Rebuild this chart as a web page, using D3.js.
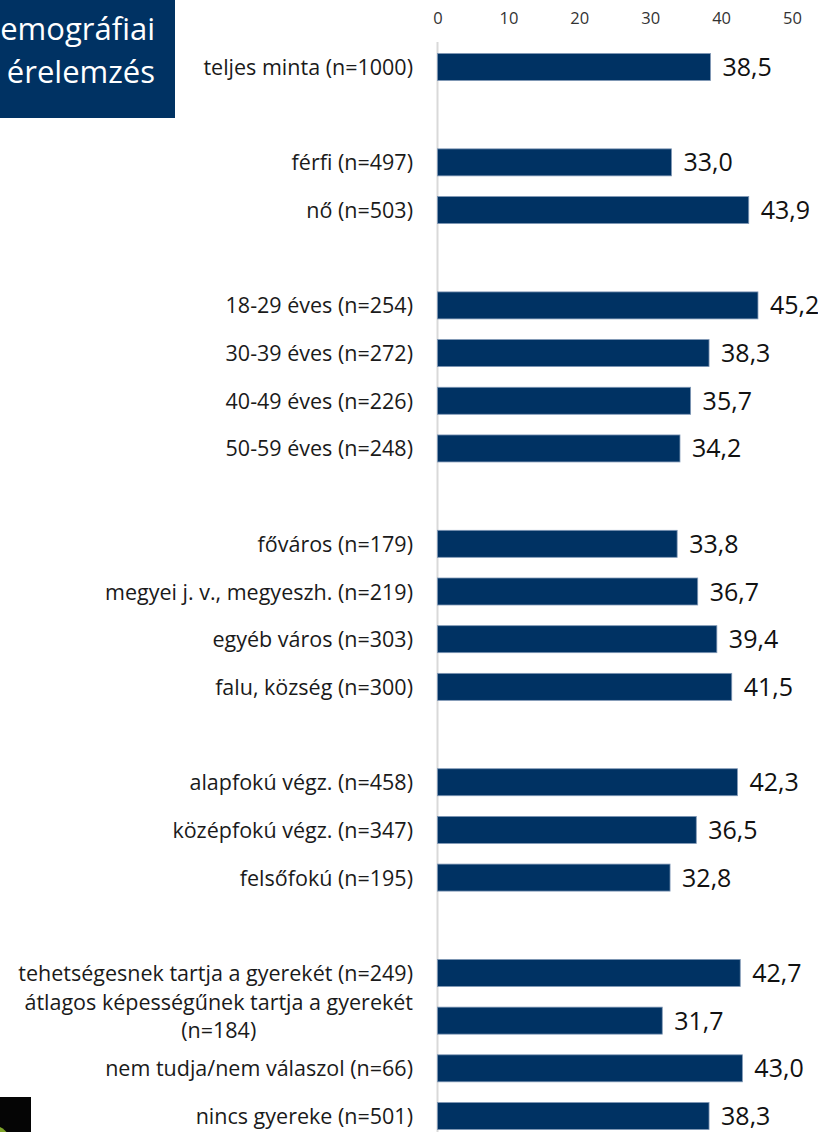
<!DOCTYPE html>
<html><head><meta charset="utf-8">
<script src="https://cdn.jsdelivr.net/npm/d3@7"></script>
<style>
html,body{margin:0;padding:0;background:#fff;}
svg{display:block;}
</style></head>
<body>
<script>
const categories = [
  "teljes minta (n=1000)",
  "férfi (n=497)", "nő (n=503)",
  "18-29 éves (n=254)", "30-39 éves (n=272)", "40-49 éves (n=226)", "50-59 éves (n=248)",
  "főváros (n=179)", "megyei j. v., megyeszh. (n=219)", "egyéb város (n=303)", "falu, község (n=300)",
  "alapfokú végz. (n=458)", "középfokú végz. (n=347)", "felsőfokú (n=195)",
  "tehetségesnek tartja a gyerekét (n=249)", "átlagos képességűnek tartja a gyerekét (n=184)",
  "nem tudja/nem válaszol (n=66)", "nincs gyereke (n=501)"
];
const values = [38.5, 33.0, 43.9, 45.2, 38.3, 35.7, 34.2, 33.8, 36.7, 39.4, 41.5, 42.3, 36.5, 32.8, 42.7, 31.7, 43.0, 38.3];
const groups = [0, 1, 1, 2, 2, 2, 2, 3, 3, 3, 3, 4, 4, 4, 5, 5, 5, 5];
const ticks = [0, 10, 20, 30, 40, 50];
const titleLines = ["emográfiai", "érelemzés"];

const W = 818, H = 1132;
const svg = d3.select("body").append("svg").attr("width", W).attr("height", H);

const slots = categories.map((c, i) => i + groups[i]);
const x = d3.scaleLinear().domain([0, 50]).range([437.5, 792]);
const y = d3.scalePoint().domain(d3.range(d3.max(slots) + 1)).range([67, 1116]);
const barH = 27;
const fmt = v => d3.format(".1f")(v).replace(".", ",");
const fontFam = "'Open Sans', 'Noto Sans', sans-serif";

// axis line
svg.append("line").attr("x1", x(0)).attr("x2", x(0)).attr("y1", 42).attr("y2", H)
  .attr("stroke", "#d9d9d9").attr("stroke-width", 2);

// top axis
const axis = d3.axisTop(x).tickValues(ticks).tickSize(0).tickPadding(0);
const gAx = svg.append("g").attr("transform", "translate(0,24)").call(axis);
gAx.select(".domain").remove();
gAx.selectAll("text").attr("font-family", fontFam).attr("font-size", 16.5).attr("fill", "#333");

// bars
svg.selectAll("rect.bar").data(values).join("rect").attr("class", "bar")
  .attr("x", x(0)).attr("y", (d, i) => y(slots[i]) - barH / 2)
  .attr("width", d => x(d) - x(0)).attr("height", barH)
  .attr("fill", "#003263").attr("stroke", "#7f97b5").attr("stroke-width", 0.8);

// value labels
svg.selectAll("text.val").data(values).join("text").attr("class", "val")
  .attr("x", d => x(d) + 12).attr("y", (d, i) => y(slots[i]) + 9)
  .attr("font-family", fontFam).attr("font-size", 25).attr("fill", "#111")
  .text(d => fmt(d));

// category labels
const labG = svg.append("g");
const fs = 21.5;
categories.forEach((c, i) => {
  const cy = y(slots[i]);
  const t = labG.append("text").attr("x", 413).attr("y", cy + 8).attr("text-anchor", "end")
    .attr("font-family", fontFam).attr("font-size", fs).attr("fill", "#1a1a1a").text(c);
  if (t.node().getComputedTextLength() > 410) {
    const m = c.lastIndexOf(" (");
    const l1 = c.slice(0, m), l2 = c.slice(m + 1);
    t.text(l1).attr("y", cy - 11);
    const w1 = t.node().getComputedTextLength();
    labG.append("text").attr("x", 413 - w1 / 2).attr("y", cy + 17).attr("text-anchor", "middle")
      .attr("font-family", fontFam).attr("font-size", fs).attr("fill", "#1a1a1a").text(l2);
  }
});

// title box
svg.append("rect").attr("x", 0).attr("y", 0).attr("width", 175).attr("height", 118).attr("fill", "#003263");
svg.selectAll("text.title").data(titleLines).join("text").attr("class", "title")
  .attr("x", 155).attr("y", (d, i) => 40 + i * 43).attr("text-anchor", "end")
  .attr("font-family", fontFam).attr("font-size", 31).attr("fill", "#fff").text(d => d);

// logo corner
const defs = svg.append("defs");
defs.append("clipPath").attr("id", "lc").append("rect").attr("x", 0).attr("y", 1097).attr("width", 31).attr("height", 35);
const lg = svg.append("g").attr("clip-path", "url(#lc)");
lg.append("rect").attr("x", 0).attr("y", 1097).attr("width", 31).attr("height", 35).attr("fill", "#050505");
lg.append("circle").attr("cx", -6).attr("cy", 1142).attr("r", 16).attr("fill", "#7fa52a");
</script>
</body></html>
